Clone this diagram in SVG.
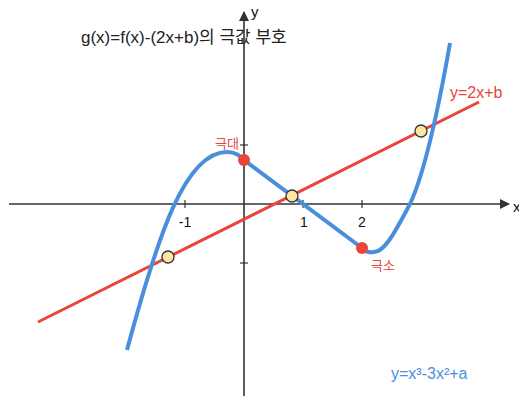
<svg xmlns="http://www.w3.org/2000/svg" width="519" height="396" viewBox="0 0 519 396">
<defs>
<style>
text{font-family:"Liberation Sans","Noto Sans CJK KR",sans-serif}
.axis{stroke:#333;stroke-width:1.6;fill:none}
.tick{stroke:#333;stroke-width:1.2}
.tl{font-size:14px;fill:#111;text-anchor:middle}
.red{fill:#e8463a}
.blue{fill:#4a8fdb}
.cross{fill:#fde6a4;stroke:#333;stroke-width:1.3}
.ext{fill:#e8463a}
</style>
<marker id="arr" viewBox="0 0 10 10" refX="9" refY="5" markerWidth="10" markerHeight="10" markerUnits="userSpaceOnUse" orient="auto">
<path d="M0,0 L10,5 L0,10 Z" fill="#333"/>
</marker>
</defs>
<rect width="519" height="396" fill="#fff"/>
<g id="axes">
<line class="axis" x1="9" y1="204" x2="509" y2="204" marker-end="url(#arr)"/>
<line class="axis" x1="244" y1="396" x2="244" y2="12" marker-end="url(#arr)"/>
<line class="tick" x1="185" y1="200" x2="185" y2="208"/>
<line class="tick" x1="303" y1="200" x2="303" y2="208"/>
<line class="tick" x1="362" y1="200" x2="362" y2="208"/>
<line class="tick" x1="240" y1="145" x2="248" y2="145"/>
<line class="tick" x1="240" y1="263" x2="248" y2="263"/>
<text class="tl" x="185" y="227">-1</text>
<text class="tl" x="304" y="227">1</text>
<text class="tl" x="362" y="227">2</text>
<text x="251" y="17" style="font-size:15px;fill:#111">y</text>
<text x="513" y="212" style="font-size:15px;fill:#111">x</text>
</g>
<text id="title" x="81" y="43" style="font-size:17px;fill:#222">g(x)=f(x)-(2x+b)의 극값 부호</text>
<g id="connectors">
<path id="line" d="M38,322 L479,102" stroke="#e8463a" stroke-width="3" fill="none"/>
<path id="cubic" d="M127,350 C158,235 185,152 227,152 C236,152 240,156 244,160 L362,248 C366,252 370,253 374,252 C385,252 396,230 410,204 C425,172 440,100 450,43" stroke="#4a8fdb" stroke-width="4" fill="none"/>
</g>
<g id="max"><circle class="ext" cx="244" cy="160" r="6"/><text class="red" x="227" y="148" text-anchor="middle" style="font-size:13px">극대</text></g>
<g id="min"><circle class="ext" cx="362" cy="248" r="6"/><text class="red" x="383" y="270" text-anchor="middle" style="font-size:13px">극소</text></g>
<g id="p1"><circle class="cross" cx="168" cy="257" r="6"/></g>
<g id="p2"><circle class="cross" cx="292" cy="196" r="6"/></g>
<g id="p3"><circle class="cross" cx="421" cy="131" r="6"/></g>
<text id="lineLabel" class="red" x="450" y="98" style="font-size:16px">y=2x+b</text>
<text id="cubicLabel" class="blue" x="391" y="379" style="font-size:16px">y=x³-3x²+a</text>
</svg>
